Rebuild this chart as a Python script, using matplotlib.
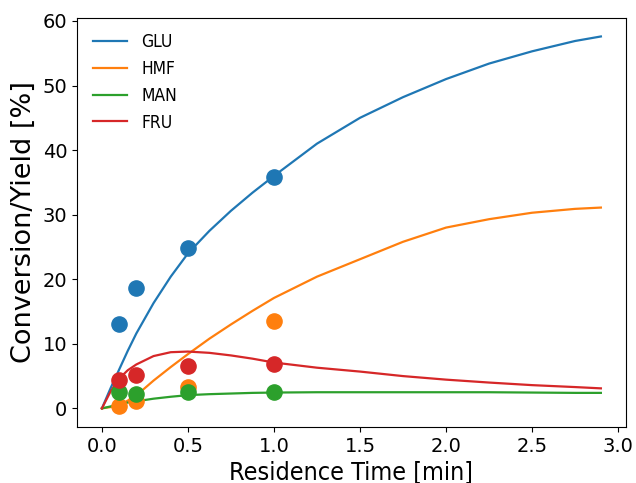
import matplotlib
matplotlib.use('Agg')
import matplotlib.pyplot as plt

# model curves
t_model = [0.0, 0.05, 0.1, 0.15, 0.2, 0.3, 0.4, 0.5, 0.625, 0.75, 0.875, 1.0,
           1.25, 1.5, 1.75, 2.0, 2.25, 2.5, 2.75, 2.9]
glu_model = [0.0, 3.1, 6.0, 8.9, 11.6, 16.3, 20.4, 24.0, 27.5, 30.6, 33.4, 36.0,
             41.0, 45.0, 48.2, 51.0, 53.4, 55.3, 56.9, 57.6]
hmf_model = [0.0, 0.2, 0.5, 1.2, 2.0, 4.3, 6.4, 8.4, 10.8, 13.0, 15.1, 17.1,
             20.4, 23.1, 25.8, 28.0, 29.3, 30.3, 30.9, 31.1]
man_model = [0.0, 0.3, 0.6, 0.9, 1.1, 1.5, 1.8, 2.05, 2.2, 2.3, 2.4, 2.45,
             2.5, 2.5, 2.5, 2.5, 2.5, 2.45, 2.4, 2.4]
fru_model = [0.0, 2.6, 4.6, 5.9, 6.8, 8.1, 8.7, 8.8, 8.6, 8.2, 7.7, 7.1,
             6.3, 5.7, 5.0, 4.45, 4.0, 3.6, 3.3, 3.1]

# experimental points
t_exp = [0.1, 0.2, 0.5, 1.0]
glu_exp = [13.0, 18.7, 24.9, 35.8]
hmf_exp = [0.4, 1.2, 3.3, 13.6]
man_exp = [2.6, 2.3, 2.6, 2.5]
fru_exp = [4.4, 5.2, 6.6, 6.8]

names = ['GLU', 'HMF', 'MAN', 'FRU']
colors = ['tab:blue', 'tab:orange', 'tab:green', 'tab:red']
models = [glu_model, hmf_model, man_model, fru_model]
exps = [glu_exp, hmf_exp, man_exp, fru_exp]

fig = plt.figure(figsize=(6.36, 4.83), dpi=100)
ax = fig.add_axes([0.121, 0.116, 0.863, 0.847])

for name, c, m in zip(names, colors, models):
    ax.plot(t_model, m, color=c, lw=1.6, label=name)
for c, e in zip(colors, exps):
    ax.scatter(t_exp, e, color=c, s=120, zorder=3)

# reference text looks a bit squashed sideways -> condensed face for wide texts
ax.set_xlabel('Residence Time [min]', fontsize=18, fontstretch='condensed', labelpad=3)
ax.set_ylabel('Conversion/Yield [%]', fontsize=19.5)
ax.tick_params(labelsize=14)
leg = ax.legend(loc='upper left', fontsize=12.5, frameon=False)
for txt in leg.get_texts():
    txt.set_fontstretch('condensed')

fig.savefig('out.png', dpi=100)
